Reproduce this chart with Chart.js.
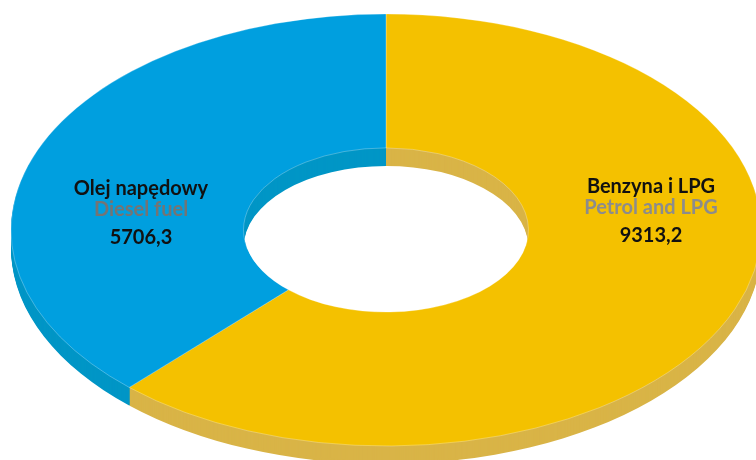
<!DOCTYPE html>
<html>
<head>
<meta charset="utf-8">
<script src="https://cdn.jsdelivr.net/npm/chart.js@4.4.1/dist/chart.umd.min.js"></script>
<style>
  html, body { margin: 0; padding: 0; background: #ffffff; }
  #wrap { position: relative; width: 756px; height: 460px; }
  canvas { display: block; }
</style>
</head>
<body>
<div id="wrap"><canvas id="c" width="756" height="460"></canvas></div>
<script>
// ---- data ----
const categoriesPl = ['Benzyna i LPG', 'Olej napędowy'];
const categoriesEn = ['Petrol and LPG', 'Diesel fuel'];
const values = [9313.2, 5706.3];

// ---- styles ----
const topColors = ['#F4C100', '#009FDF'];
const sideColors = ['#D9B447', '#0096C6'];
const tilt = 0.576;      // vertical squash of the ring
const depth = 18;        // thickness of the ring in px
const labelPos = [ {x: 651, y: 193}, {x: 141, y: 195} ];

function fmt(v) { return v.toFixed(1).replace('.', ','); }

const tiltPlugin = {
  id: 'tilt3d',
  beforeDatasetsDraw(chart) {
    const ctx = chart.ctx;
    const meta = chart.getDatasetMeta(0);
    const el0 = meta.data[0];
    const cx = el0.x, cy = el0.y;
    ctx.save();
    ctx.translate(cx, cy);
    ctx.scale(1, tilt);
    ctx.translate(-cx, -cy);
    // side walls: sweep the ring downwards
    for (let t = depth; t >= 1; t--) {
      ctx.save();
      ctx.translate(0, t / tilt);
      meta.data.forEach((el, i) => {
        const p = el.getProps(['x', 'y', 'startAngle', 'endAngle', 'innerRadius', 'outerRadius']);
        ctx.beginPath();
        ctx.arc(p.x, p.y, p.outerRadius, p.startAngle, p.endAngle);
        ctx.arc(p.x, p.y, p.innerRadius, p.endAngle, p.startAngle, true);
        ctx.closePath();
        ctx.fillStyle = sideColors[i];
        ctx.fill();
      });
      ctx.restore();
    }
  },
  afterDatasetsDraw(chart) {
    chart.ctx.restore();
  },
  afterDraw(chart) {
    const ctx = chart.ctx;
    ctx.save();
    ctx.textAlign = 'center';
    ctx.textBaseline = 'alphabetic';
    values.forEach((v, i) => {
      const p = labelPos[i];
      ctx.font = 'bold 20px Lato';
      ctx.fillStyle = '#111111';
      ctx.fillText(categoriesPl[i], p.x, p.y);
      ctx.fillStyle = i === 0 ? '#8c8c8c' : '#747474';
      ctx.fillText(categoriesEn[i], p.x, p.y + 21);
      ctx.fillStyle = '#111111';
      ctx.fillText(fmt(v), p.x, p.y + 49);
    });
    ctx.restore();
  }
};

new Chart(document.getElementById('c'), {
  type: 'doughnut',
  data: {
    labels: categoriesPl,
    datasets: [{
      data: values,
      backgroundColor: topColors,
      borderColor: 'rgba(255,255,255,0.35)',
      borderWidth: 1,
      clip: false,
      radius: 375,
      cutout: '38%'
    }]
  },
  options: {
    responsive: false,
    animation: false,
    layout: { padding: { left: 16, right: 0, top: 0, bottom: 0 } },
    plugins: { legend: { display: false }, tooltip: { enabled: false } },
    events: []
  },
  plugins: [tiltPlugin]
});
</script>
</body>
</html>
